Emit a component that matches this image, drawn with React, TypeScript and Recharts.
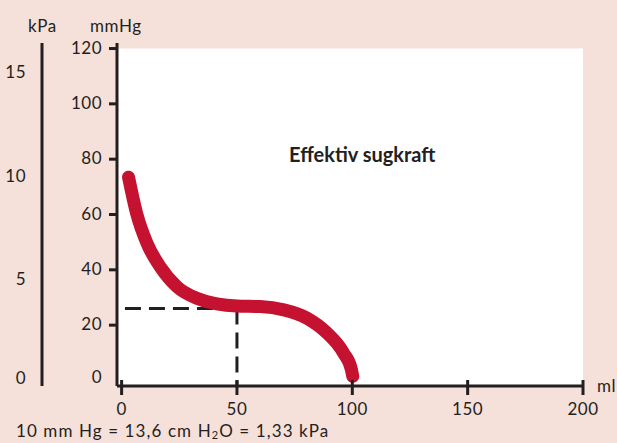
import { Line, LineChart, ReferenceArea, ReferenceLine, XAxis, YAxis } from 'recharts';

// (ml, mmHg)
const volume = [3, 6.5, 11, 16.7, 24, 32.6, 41.3, 50, 60, 70.3, 80.4, 89.1, 96.3, 99.6, 100.2];
const pressure = [73.5, 60.4, 49.6, 41.1, 33.9, 29.7, 27.7, 26.9, 26.7, 25.5, 22.5, 17.1, 9.8, 4, 1.5];

const xTicks = [0, 50, 100, 150, 200];
const mmHgTicks = [0, 20, 40, 60, 80, 100, 120];
const kPaTicks = [0, 5, 10, 15];

const markVolume = 50;
const markPressure = 26;

const MMHG_PER_KPA = 7.5;
const mmHgDomain = [-2, 122];

const INK = '#231f20';
const RED = '#c41230';
const BG = '#f5e0da';
const FONT = 'Lato, sans-serif';
const FS = 17;

// axis ids: the inner (next to the plot) axis must sort first
const MMHG = 'a-mmhg';
const KPA = 'b-kpa';

const data = volume.map((v, i) => ({ volume: v, pressure: pressure[i] }));

const XTick = (props: any) => {
  const { x, y, payload } = props;
  return (
    <g>
      <line x1={x} x2={x} y1={y - 28} y2={y - 13} stroke={INK} strokeWidth={3} />
      <text x={x} y={y} textAnchor="middle" dominantBaseline="central" fontSize={FS} fill={INK} fontFamily={FONT} letterSpacing={0.5}>
        {payload.value}
      </text>
    </g>
  );
};

const MmHgTick = (props: any) => {
  const { x, y, payload } = props;
  return (
    <g>
      {payload.value !== 0 && (
        <line x1={x + 7} x2={x + 15} y1={y} y2={y} stroke={INK} strokeWidth={3} />
      )}
      <text
        x={x}
        y={payload.value === 0 ? y - 4 : y - 1.5}
        textAnchor="end"
        dominantBaseline="central"
        fontSize={FS}
        fill={INK}
        fontFamily={FONT}
        letterSpacing={0.5}
      >
        {payload.value}
      </text>
    </g>
  );
};

const KPaTick = (props: any) => {
  const { x, y, payload } = props;
  return (
    <text
      x={x}
      y={payload.value === 0 ? y - 3 : y + 2}
      textAnchor="end"
      dominantBaseline="central"
      fontSize={FS}
      fill={INK}
      fontFamily={FONT}
      letterSpacing={0.5}
    >
      {payload.value}
    </text>
  );
};

const txt = (left: number, top: number, extra: any = {}) => ({
  position: 'absolute' as const,
  left,
  top,
  fontSize: FS,
  lineHeight: '17px',
  color: INK,
  letterSpacing: 0.6,
  whiteSpace: 'nowrap' as const,
  ...extra
});

export default function App() {
  return (
    <div
      style={{
        position: 'absolute',
        left: 0,
        top: 0,
        width: 617,
        height: 443,
        background: BG,
        fontFamily: FONT,
        overflow: 'hidden'
      }}
    >
      <LineChart width={617} height={443} data={data} margin={{ top: 43, right: 34, bottom: 0, left: 0 }}>
        <XAxis
          dataKey="volume"
          type="number"
          domain={[-2, 200]}
          ticks={xTicks}
          allowDataOverflow
          height={57}
          axisLine={{ stroke: INK, strokeWidth: 3 }}
          tickLine={false}
          tickSize={0}
          tickMargin={22}
          tick={<XTick />}
        />
        <YAxis
          yAxisId={MMHG}
          type="number"
          domain={mmHgDomain}
          ticks={mmHgTicks}
          allowDataOverflow
          width={75}
          axisLine={{ stroke: INK, strokeWidth: 3 }}
          tickLine={false}
          tickSize={0}
          tickMargin={15}
          tick={<MmHgTick />}
        />
        <YAxis
          yAxisId={KPA}
          type="number"
          domain={[mmHgDomain[0] / MMHG_PER_KPA, mmHgDomain[1] / MMHG_PER_KPA]}
          ticks={kPaTicks}
          allowDataOverflow
          width={42}
          axisLine={{ stroke: INK, strokeWidth: 3 }}
          tickLine={false}
          tickSize={0}
          tickMargin={16}
          tick={<KPaTick />}
        />
        <ReferenceArea yAxisId={MMHG} x1={-2} x2={200} y1={-2} y2={120} fill="#ffffff" fillOpacity={1} stroke="none" />
        <ReferenceLine
          yAxisId={MMHG}
          segment={[
            { x: markVolume, y: markPressure },
            { x: -2, y: markPressure }
          ]}
          stroke={INK}
          strokeWidth={3}
          strokeDasharray="16 8"
        />
        <ReferenceLine
          yAxisId={MMHG}
          segment={[
            { x: markVolume, y: markPressure },
            { x: markVolume, y: -2 }
          ]}
          stroke={INK}
          strokeWidth={3}
          strokeDasharray="16 8"
        />
        <Line
          yAxisId={MMHG}
          dataKey="pressure"
          type="monotone"
          stroke={RED}
          strokeWidth={13}
          strokeLinecap="round"
          dot={false}
          activeDot={false}
          isAnimationActive={false}
        />
      </LineChart>
      <div style={txt(28, 17)}>kPa</div>
      <div style={txt(90, 17)}>mmHg</div>
      <div style={txt(597, 377)}>ml</div>
      <div style={txt(289, 144, { fontSize: 20, lineHeight: '20px', fontWeight: 700, letterSpacing: 0 })}>Effektiv sugkraft</div>
      <div style={txt(16, 422, { letterSpacing: 1.1 })}>
        10 mm Hg = 13,6 cm H<span style={{ fontSize: 11, position: 'relative', top: 2 }}>2</span>O = 1,33 kPa
      </div>
    </div>
  );
}
